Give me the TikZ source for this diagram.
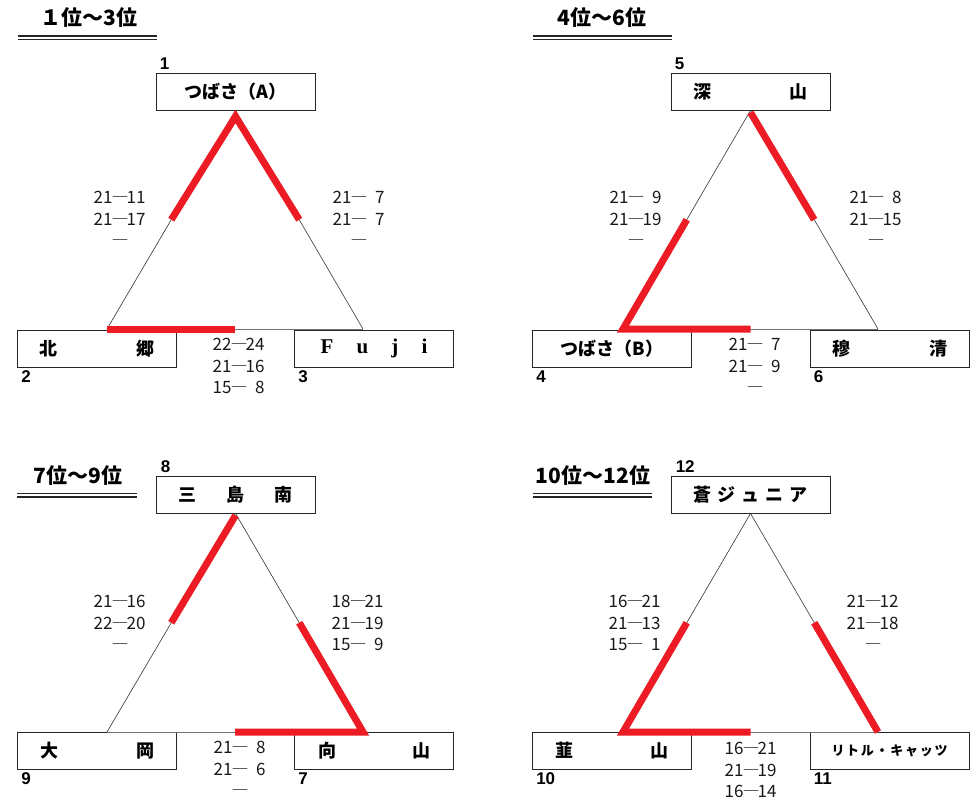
\documentclass[tikz,border=0pt]{standalone}
\usepackage{fontspec}
\usetikzlibrary{calc}
\newfontfamily\jp{Noto Sans CJK JP}
\newfontfamily\lsans{Liberation Sans}
\newfontfamily\lserif{Liberation Serif}
\definecolor{winred}{HTML}{ED1C24}
\newcommand{\scl}[2]{\makebox[18pt][r]{#1}\makebox[15pt]{―}\makebox[18pt][r]{#2}}
\tikzset{
  team/.style={draw=black!85, line width=0.9pt, minimum width=159pt, minimum height=37pt, inner sep=0pt,
    font=\jp\bfseries\fontsize{18}{18}\selectfont},
  rank/.style={font=\lsans\bfseries\fontsize{17}{17}\selectfont, inner sep=0pt, anchor=west},
  score/.style={font=\jp\fontsize{17}{21.5}\selectfont, align=center, inner sep=0pt, text=black!90},
  ttl/.style={font=\jp\bfseries\fontsize{21}{21}\selectfont, inner sep=0pt},
  thinl/.style={line width=0.6pt, black!80},
  basel/.style={line width=1pt, black!55},
  win/.style={line width=7pt, winred, line join=miter},
  uline/.style={line width=1.4pt, black!85},
}
\begin{document}
\begin{tikzpicture}[x=1pt,y=-1pt]
\useasboundingbox (0,0) rectangle (977,800);

% ===== 1-3 =====
\node[ttl] (h1) at (89,18) {１位〜3位};
\draw[uline] (18,36) -- (157,36) (18,39.5) -- (157,39.5);
\node[team] (t1) at (235.5,91.5) {つばさ（A）};
\node[team] (l1) at (97,348.5) {\makebox[115pt]{北\hfill 郷}};
\node[team, font=\lserif\bfseries\fontsize{21}{21}\selectfont] (r1) at (374,348.5) {\makebox[107pt]{F\hfill u\hfill j\hfill i}};
\node[rank] (k1) at ([xshift=4pt,yshift=9pt]t1.north west) {1};
\node[rank] (k2) at ([xshift=4pt,yshift=-9pt]l1.south west) {2};
\node[rank] (k3) at ([xshift=4pt,yshift=-9pt]r1.south west) {3};
\coordinate (A1) at ([yshift=-6pt]t1.south);
\coordinate (L1) at (107,329);
\coordinate (R1) at (363,329);
\draw[thinl] (t1.south) -- (L1);
\draw[thinl] (t1.south) -- (R1);
\draw[basel] (L1) -- (R1);
\draw[win] ($(t1.south)!0.5!(L1)$) -- (A1) -- ($(t1.south)!0.5!(R1)$);
\draw[win] (L1) -- ($(L1)!0.5!(R1)$);
\node[score] (s1a) at (120,219) {\scl{21}{11}\\\scl{21}{17}\\\scl{}{}};
\node[score] (s1b) at (359,219) {\scl{21}{7}\\\scl{21}{7}\\\scl{}{}};
\node[score] (s1c) at (239,366) {\scl{22}{24}\\\scl{21}{16}\\\scl{15}{8}};

% ===== 4-6 =====
\node[ttl] (h2) at (602,18) {4位〜6位};
\draw[uline] (533,36) -- (672,36) (533,39.5) -- (672,39.5);
\node[team] (t2) at (750.5,91.5) {\makebox[114pt]{深\hfill 山}};
\node[team] (l2) at (612,348.5) {つばさ（B）};
\node[team] (r2) at (889.5,348.5) {\makebox[115pt]{穆\hfill 清}};
\node[rank] (k5) at ([xshift=4pt,yshift=9pt]t2.north west) {5};
\node[rank] (k4) at ([xshift=4pt,yshift=-9pt]l2.south west) {4};
\node[rank] (k6) at ([xshift=4pt,yshift=-9pt]r2.south west) {6};
\coordinate (L2) at (623,329);
\coordinate (R2) at (878,329);
\draw[thinl] (t2.south) -- (L2);
\draw[thinl] (t2.south) -- (R2);
\draw[basel] (L2) -- (R2);
\draw[win] ($(t2.south)!0.5!(L2)$) -- (L2) -- ($(L2)!0.5!(R2)$);
\draw[win] ([yshift=-2pt]t2.south) -- ($(t2.south)!0.5!(R2)$);
\node[score] (s2a) at (636,219) {\scl{21}{9}\\\scl{21}{19}\\\scl{}{}};
\node[score] (s2b) at (876,219) {\scl{21}{8}\\\scl{21}{15}\\\scl{}{}};
\node[score] (s2c) at (755,366) {\scl{21}{7}\\\scl{21}{9}\\\scl{}{}};

% ===== 7-9 =====
\node[ttl] (h3) at (78,476) {7位〜9位};
\draw[uline] (17,493.5) -- (137,493.5) (17,497) -- (137,497);
\node[team] (t3) at (235.5,494.5) {\makebox[115pt]{三\hfill 島\hfill 南}};
\node[team] (l3) at (97,751) {\makebox[114pt]{大\hfill 岡}};
\node[team] (r3) at (374,751) {\makebox[112pt]{向\hfill 山}};
\node[rank] (k8) at ([xshift=5pt,yshift=9pt]t3.north west) {8};
\node[rank] (k9) at ([xshift=4pt,yshift=-9pt]l3.south west) {9};
\node[rank] (k7) at ([xshift=4pt,yshift=-9pt]r3.south west) {7};
\coordinate (L3) at (107,732);
\coordinate (R3) at (363,732);
\draw[thinl] (t3.south) -- (L3);
\draw[thinl] (t3.south) -- (R3);
\draw[basel] (L3) -- (R3);
\draw[win] ([yshift=-2pt]t3.south) -- ($(t3.south)!0.5!(L3)$);
\draw[win] ($(t3.south)!0.5!(R3)$) -- (R3) -- ($(R3)!0.5!(L3)$);
\node[score] (s3a) at (120,623) {\scl{21}{16}\\\scl{22}{20}\\\scl{}{}};
\node[score] (s3b) at (358,623) {\scl{18}{21}\\\scl{21}{19}\\\scl{15}{9}};
\node[score] (s3c) at (240,769) {\scl{21}{8}\\\scl{21}{6}\\\scl{}{}};

% ===== 10-12 =====
\node[ttl] (h4) at (593,476) {10位〜12位};
\draw[uline] (533,493.5) -- (652,493.5) (533,497) -- (652,497);
\node[team] (t4) at (750.5,494.5) {\makebox[115pt]{蒼\hfill ジ\hfill ュ\hfill ニ\hfill ア}};
\node[team] (l4) at (612,751) {\makebox[113pt]{韮\hfill 山}};
\node[team, font=\jp\bfseries\fontsize{13}{13}\selectfont] (r4) at (889.5,751) {\makebox[116pt]{リ\hfill ト\hfill ル\hfill ・\hfill キ\hfill ャ\hfill ッ\hfill ツ}};
\node[rank] (k12) at ([xshift=5pt,yshift=9pt]t4.north west) {12};
\node[rank] (k10) at ([xshift=4pt,yshift=-9pt]l4.south west) {10};
\node[rank] (k11) at ([xshift=4pt,yshift=-9pt]r4.south west) {11};
\coordinate (L4) at (623,732);
\coordinate (R4) at (878,732);
\draw[thinl] (t4.south) -- (L4);
\draw[thinl] (t4.south) -- (R4);
\draw[basel] (L4) -- (R4);
\draw[win] ($(t4.south)!0.5!(L4)$) -- (L4) -- ($(L4)!0.5!(R4)$);
\draw[win] ($(t4.south)!0.5!(R4)$) -- (R4);
\node[score] (s4a) at (635,623) {\scl{16}{21}\\\scl{21}{13}\\\scl{15}{1}};
\node[score] (s4b) at (873,623) {\scl{21}{12}\\\scl{21}{18}\\\scl{}{}};
\node[score] (s4c) at (751,770) {\scl{16}{21}\\\scl{21}{19}\\\scl{16}{14}};
\end{tikzpicture}
\end{document}
